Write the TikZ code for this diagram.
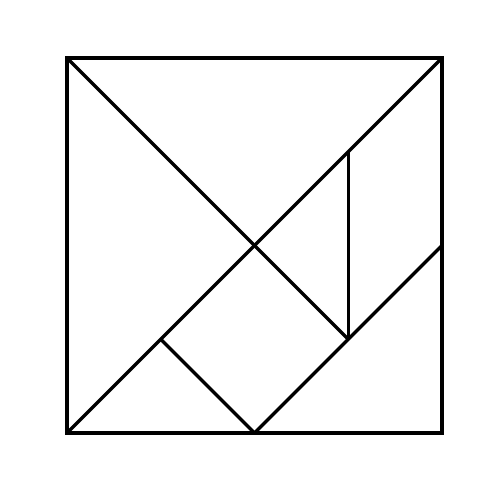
\documentclass[tikz,border=0pt]{standalone}
\begin{document}
\begin{tikzpicture}[x=1pt,y=-1pt,piece/.style={line width=3.2pt,line join=miter,line cap=butt}]
\useasboundingbox (0,0) rectangle (500,500);
\coordinate (TL) at (67,58);
\coordinate (TR) at (442,58);
\coordinate (BR) at (442,433);
\coordinate (BL) at (67,433);
\coordinate (C) at (254.5,245.5);
\coordinate (Q) at (348.25,339.25);
\coordinate (P) at (160.75,339.25);
\coordinate (BM) at (254.5,433);
\coordinate (RM) at (442,245.5);
\coordinate (V) at (348.25,151.75);
\draw[piece] (TL) -- (TR) -- (BR) -- (BL) -- cycle;
\draw[piece] (TL) -- (Q);
\draw[piece] (BL) -- (TR);
\draw[piece] (V) -- (Q);
\draw[piece] (RM) -- (BM);
\draw[piece] (P) -- (BM);
\end{tikzpicture}
\end{document}
